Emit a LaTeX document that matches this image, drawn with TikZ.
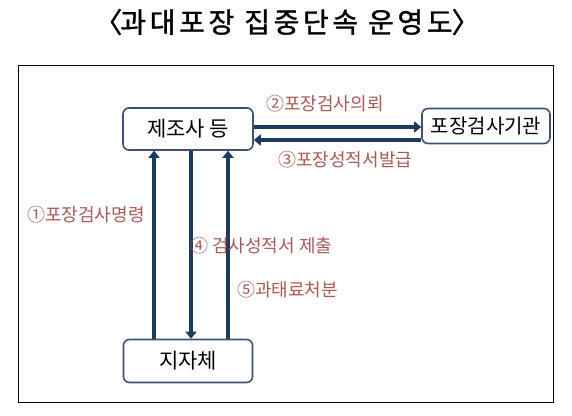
\documentclass[tikz,border=0pt]{standalone}
\usepackage{fontspec}
\setmainfont{Noto Sans CJK KR}
\newfontfamily\titlefont[FakeBold=1.2,LetterSpace=13]{Noto Sans CJK KR}
\usetikzlibrary{arrows.meta}
\definecolor{arr}{HTML}{1F3A5F}
\definecolor{bord}{HTML}{3E5170}
\definecolor{lab}{HTML}{A85A58}
\tikzset{
  box/.style={draw=bord, line width=1.6pt, rounded corners=6pt, fill=white, inner sep=0pt, align=center, font=\fontsize{20}{24}\selectfont},
  conn/.style={draw=arr, line width=4pt, -{Triangle[length=7pt,width=11pt]}},
  lbl/.style={text=lab, font=\fontsize{18}{20}\selectfont, inner sep=0pt, anchor=west},
}
\begin{document}
\begin{tikzpicture}[x=1pt,y=-1pt]
\useasboundingbox (0,0) rectangle (572,415);
\fill[white] (0,0) rectangle (572,415);
\node[font=\titlefont\fontsize{28}{32}\selectfont] (title) at (287,22) {〈\kern-2pt 과대포장 집중단속 운영도\kern-1pt 〉};
\draw[line width=1pt] (18,65) rectangle (553,402);
\node[box, minimum width=130pt, minimum height=42pt, font=\fontsize{21}{24}\selectfont] (maker) at (188,129) {제조사 등};
\node[box, minimum width=128pt, minimum height=35pt] (inst) at (486,126) {포장검사기관};
\node[box, minimum width=129pt, minimum height=43pt, font=\fontsize{21}{24}\selectfont] (local) at (188,361) {지자체};
\draw[conn] (maker.east |- 0,127) -- (inst.west |- 0,127);
\draw[conn] (inst.west |- 0,140) -- (maker.east |- 0,140);
\draw[conn] (local.north -| 154,0) -- (maker.south -| 154,0);
\draw[conn] (maker.south -| 191,0) -- (local.north -| 191,0);
\draw[conn] (local.north -| 228,0) -- (maker.south -| 228,0);
\node[lbl] (l2) at (266,104) {②포장검사의뢰};
\node[lbl] (l3) at (278,160) {③포장성적서발급};
\node[lbl] (l1) at (27,215) {①포장검사명령};
\node[lbl] (l4) at (190,246) {④ 검사성적서 제출};
\node[lbl] (l5) at (237,290) {⑤과태료처분};
\end{tikzpicture}
\end{document}
